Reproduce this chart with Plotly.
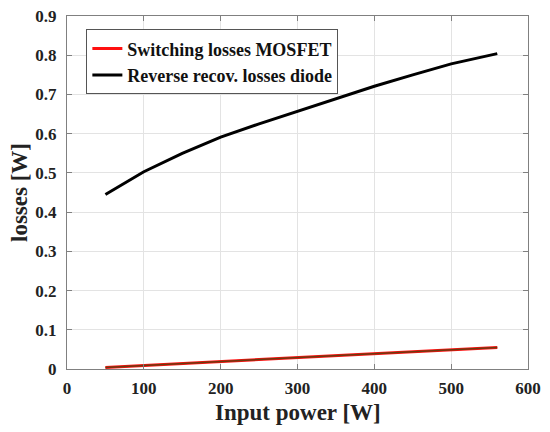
import plotly.graph_objects as go

# input power [W]
power=[50,100,150,200,250,300,350,400,450,500,560]
# losses [W]
sw_mosfet=[0.004,0.009,0.014,0.019,0.024,0.029,0.034,0.040,0.045,0.050,0.055]
rr_diode=[0.445,0.503,0.550,0.591,0.625,0.657,0.690,0.721,0.750,0.778,0.804]

x_ticks=[0,100,200,300,400,500,600]
y_ticks=[0,0.1,0.2,0.3,0.4,0.5,0.6,0.7,0.8,0.9]

font_serif='Liberation Serif'
title_font=dict(family=font_serif,size=23,color='#222')

fig=go.Figure()
fig.add_trace(go.Scatter(x=power,y=sw_mosfet,mode='lines',name='<b>Switching losses MOSFET</b>',
                         line=dict(color='#ff1010',width=3)))
fig.add_trace(go.Scatter(x=power,y=sw_mosfet,mode='lines',showlegend=False,hoverinfo='skip',
                         line=dict(color='#6a3a10',width=1.5)))
fig.add_trace(go.Scatter(x=power,y=rr_diode,mode='lines',name='<b>Reverse recov. losses diode</b>',
                         line=dict(color='black',width=3)))

axis_style=dict(showline=True,linecolor='#808080',linewidth=1,mirror='ticks',
                ticks='inside',ticklen=5,tickcolor='#808080',automargin=False,
                ticklabeloverflow='allow',
                showgrid=True,gridcolor='#e3e3e3',gridwidth=1,zeroline=False,
                tickfont=dict(family=font_serif,size=17,color='#222'))

fig.update_xaxes(range=[0,600],tickvals=x_ticks,ticktext=['<b>%d</b>'%v for v in x_ticks],
                 ticklabelstandoff=4,**axis_style)
fig.update_yaxes(range=[0,0.9],tickvals=y_ticks,ticktext=['<b>%g</b>'%v for v in y_ticks],
                 ticklabelstandoff=6,**axis_style)

# axis titles placed by hand
fig.add_annotation(text='<b>Input power [W]</b>',xref='paper',yref='paper',x=0.5,y=0,
                   xanchor='center',yanchor='top',yshift=-29,showarrow=False,font=title_font)
fig.add_annotation(text='<b>losses [W]</b>',xref='paper',yref='paper',x=0,y=0.5,textangle=-90,
                   xanchor='right',yanchor='middle',xshift=-33,showarrow=False,font=title_font)

# page body adds an 8px offset, so the figure is 8px smaller than the window
fig.update_layout(width=542,height=424,margin=dict(l=59,r=22,t=8,b=63),
                  plot_bgcolor='white',paper_bgcolor='white',
                  legend=dict(x=0.042,y=0.962,xanchor='left',yanchor='top',
                              bgcolor='white',bordercolor='#555',borderwidth=1,
                              font=dict(family=font_serif,size=18,color='#111')))

fig.write_html("out.html")
